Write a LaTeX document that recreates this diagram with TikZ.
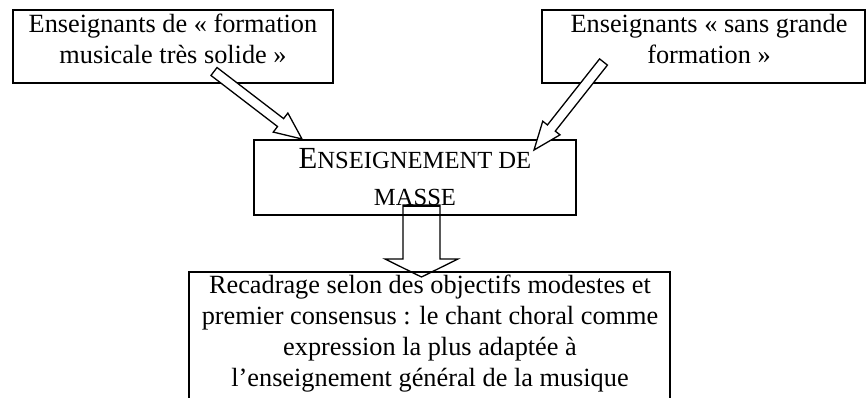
\documentclass[tikz,border=0pt]{standalone}
\usepackage{fontspec}
\setmainfont{Liberation Serif}
\usetikzlibrary{calc}
\tikzset{
  boxline/.style={line width=2.2pt},
  blockarrow/.style={line width=1.3pt, fill=white, line join=miter},
  txt/.style={inner sep=0pt, anchor=north, align=center, font=\fontsize{26.3}{31}\selectfont},
  bigtxt/.style={inner sep=0pt, anchor=north, align=center, font=\fontsize{30.7}{37.5}\selectfont},
}
\newcommand\fsc[1]{{\fontsize{24.6}{37.5}\selectfont #1}}
% #1 tail, #2 tip, #3 shaft half width, #4 head half width, #5 head length
\newcommand\blockarr[6][blockarrow]{%
  \coordinate (#2-n) at ($(#3)!#6!(#2)$);
  \draw[#1] ($(#2)!#4!90:(#3)$) -- ($(#2-n)!#4!90:(#3)$) -- ($(#2-n)!#5!90:(#3)$) -- (#3)
    -- ($(#2-n)!#5!-90:(#3)$) -- ($(#2-n)!#4!-90:(#3)$) -- ($(#2)!#4!-90:(#3)$) -- cycle;}
\begin{document}
\begin{tikzpicture}[x=1pt,y=-1pt]
\useasboundingbox (0,0) rectangle (866,398);
% boxes
\draw[boxline] (13,10) rectangle (333,83);
\draw[boxline] (542,10) rectangle (865,83);
\draw[boxline] (254,140) rectangle (576,215);
\draw[boxline] (189,400) -- (189,272) -- (670,272) -- (670,400);
% texts
\node[txt] (t1) at (173,10.3) {\strut Enseignants de « formation\\ musicale très solide »};
\node[txt] (t2) at (709,10.3) {\strut Enseignants « sans grande\\ formation »};
\node[bigtxt] (t3) at (415,141.8) {\strut E\fsc{NSEIGNEMENT DE}\\ \fsc{MASSE}};
\node[txt] (t4) at (430,271.6) {\strut Recadrage selon des objectifs modestes et\\ premier consensus : le chant choral comme\\ expression la plus adaptée à\\ l’enseignement général de la musique};
% arrows
\coordinate (a1t) at (214,71.5);
\coordinate (a1h) at (302,139);
\coordinate (a2t) at (603.5,62);
\coordinate (a2h) at (534,150);
\coordinate (a3t) at (421.5,205);
\coordinate (a3h) at (421.5,277);
\blockarr{a1t}{a1h}{5pt}{12pt}{27pt}
\blockarr{a2t}{a2h}{5pt}{11pt}{28pt}
\blockarr[blockarrow, fill=none]{a3t}{a3h}{18.5pt}{36.5pt}{18pt}
\draw[line width=2.5pt] ($(a3t)+(-18.5,1)$) -- ($(a3t)+(18.5,1)$);
\end{tikzpicture}
\end{document}
